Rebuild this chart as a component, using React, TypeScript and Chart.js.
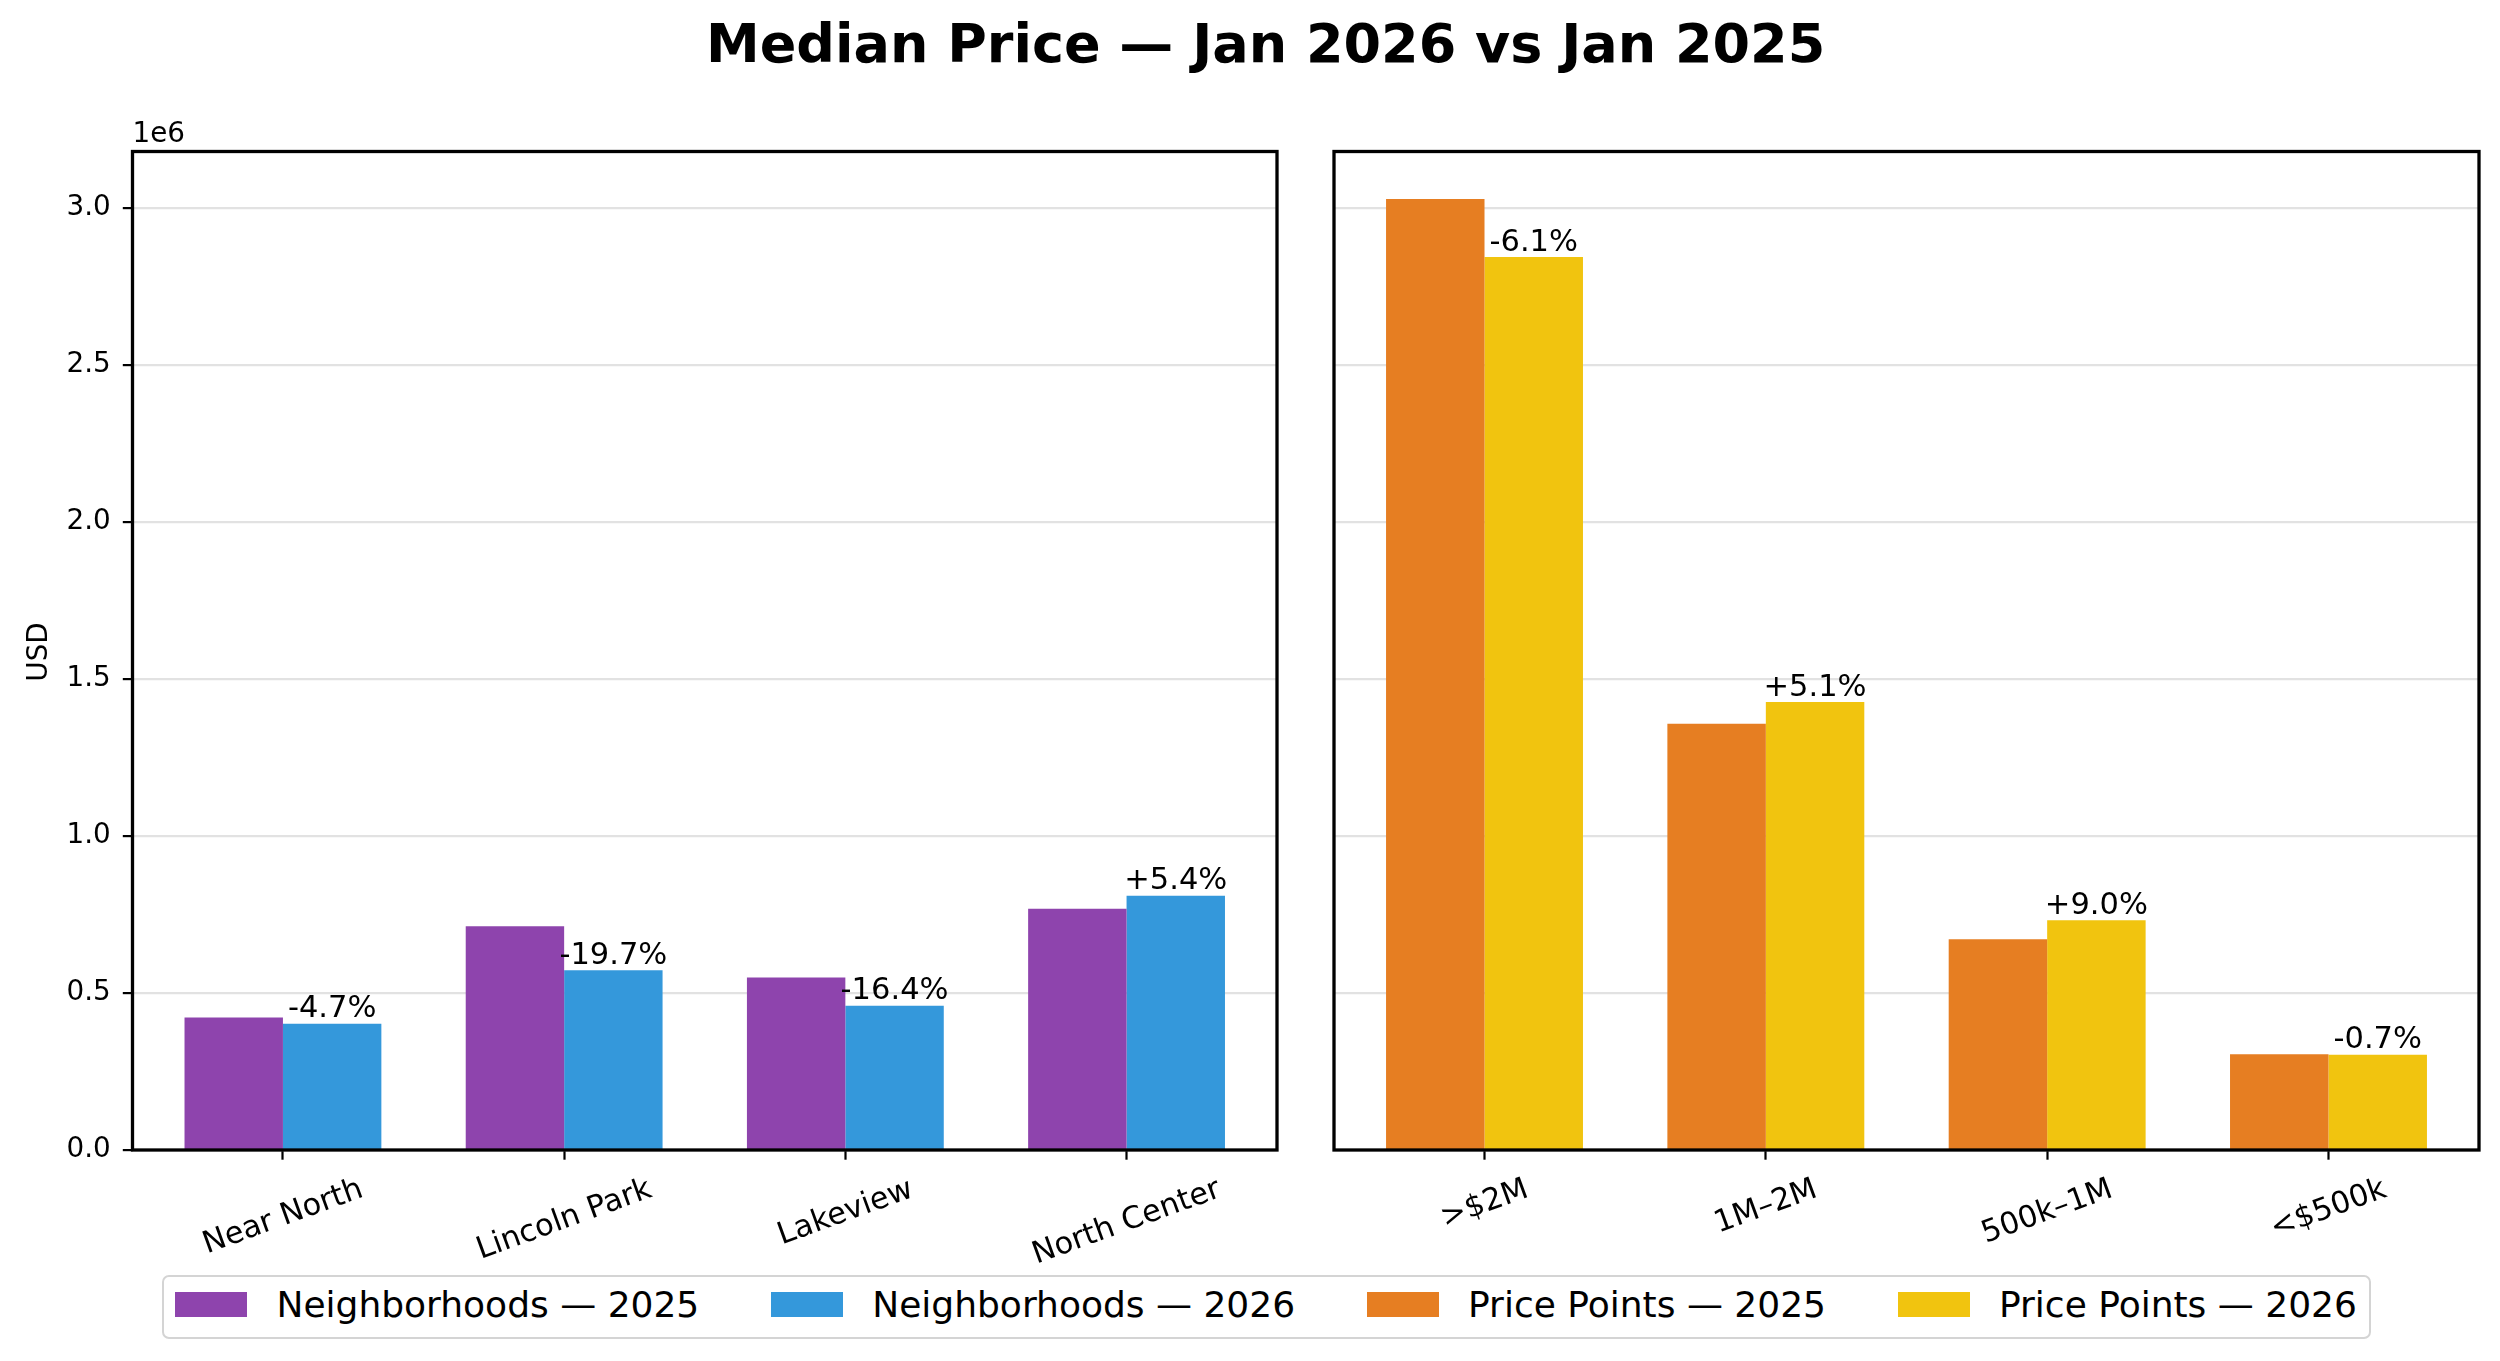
import React, { useEffect, useRef } from "react";
import { Chart, registerables } from "chart.js";

Chart.register(...registerables);

// ---------- data ----------
const neighborhoods = ["Near North", "Lincoln Park", "Lakeview", "North Center"];
const neighborhoods2025 = [422000, 712000, 549000, 768000];
const neighborhoods2026 = [402000, 572000, 459000, 809500];
const neighborhoodChanges = ["-4.7%", "-19.7%", "-16.4%", "+5.4%"];

const pricePoints = [">$2M", "1M\u20132M", "500k\u20131M", "<$500k"];
const pricePoints2025 = [3028000, 1357000, 671000, 305000];
const pricePoints2026 = [2843000, 1426000, 731500, 303000];
const pricePointChanges = ["-6.1%", "+5.1%", "+9.0%", "-0.7%"];

const yTickValues = [0, 500000, 1000000, 1500000, 2000000, 2500000, 3000000];
const yMaxValue = 3179000;

const legendLabels = [
  "Neighborhoods \u2014 2025",
  "Neighborhoods \u2014 2026",
  "Price Points \u2014 2025",
  "Price Points \u2014 2026",
];
const titleText = "Median Price \u2014 Jan 2026 vs Jan 2025";

// ---------- style ----------
const C_PURPLE = "#8e44ad";
const C_BLUE = "#3498db";
const C_ORANGE = "#e67e22";
const C_YELLOW = "#f1c40f";
const FONT = '"DejaVu Sans", sans-serif';
const TICK_PX = 27.8;
const LABEL_PX = 30.5;
const PLOT_TOP = 151.5;
const PLOT_BOTTOM = 1150;
const CANVAS_H = 1272;

type PanelProps = {
  x: number;
  width: number;
  plotLeft: number;
  plotRight: number;
  categories: string[];
  first: number[];
  second: number[];
  changes: string[];
  colors: string[];
  labels: string[];
  showY: boolean;
};

function Panel(p: PanelProps) {
  const ref = useRef<HTMLCanvasElement | null>(null);
  useEffect(() => {
    const canvas = ref.current;
    if (!canvas) return;
    const overlay = {
      id: "overlay",
      afterDatasetsDraw(chart: any) {
        const ctx = chart.ctx;
        const meta = chart.getDatasetMeta(1);
        ctx.save();
        ctx.font = `${LABEL_PX}px ${FONT}`;
        ctx.fillStyle = "#000";
        ctx.textAlign = "center";
        ctx.textBaseline = "alphabetic";
        meta.data.forEach((bar: any, i: number) => {
          ctx.fillText(p.changes[i], bar.x, bar.y - 0.21 * LABEL_PX);
        });
        ctx.restore();
      },
      afterDraw(chart: any) {
        const ctx = chart.ctx;
        const a = chart.chartArea;
        ctx.save();
        // spines
        ctx.strokeStyle = "#000";
        ctx.lineWidth = 3.3;
        ctx.lineJoin = "miter";
        ctx.strokeRect(a.left, a.top, a.right - a.left, a.bottom - a.top);
        // rotated x tick labels, centred on each tick
        const xs = chart.scales.x;
        const th = (20 * Math.PI) / 180;
        ctx.font = `${LABEL_PX}px ${FONT}`;
        ctx.fillStyle = "#000";
        ctx.textAlign = "center";
        ctx.textBaseline = "alphabetic";
        p.categories.forEach((lab, i) => {
          const px = xs.getPixelForValue(i);
          const w = ctx.measureText(lab).width;
          const h = 0.968 * LABEL_PX;
          const H = w * Math.sin(th) + h * Math.cos(th);
          const cy = a.bottom + 9.7 + 9.7 + 5 + H / 2;
          ctx.save();
          ctx.translate(px, cy);
          ctx.rotate(-th);
          ctx.fillText(lab, 0, 0.276 * LABEL_PX);
          ctx.restore();
        });
        if (p.showY) {
          ctx.font = `${TICK_PX}px ${FONT}`;
          ctx.textAlign = "left";
          ctx.fillText("1e6", a.left, 141.7);
          ctx.save();
          ctx.translate(46.5, 652);
          ctx.rotate(-Math.PI / 2);
          ctx.textAlign = "center";
          ctx.fillText("USD", 0, 0);
          ctx.restore();
        }
        ctx.restore();
      },
    };
    const chart = new Chart(canvas, {
      type: "bar",
      data: {
        datasets: [
          {
            label: p.labels[0],
            data: p.categories.map((_, i) => ({ x: i, y: p.first[i] })),
            backgroundColor: p.colors[0],
            borderWidth: 0,
            categoryPercentage: 0.7,
            barPercentage: 1.0,
          },
          {
            label: p.labels[1],
            data: p.categories.map((_, i) => ({ x: i, y: p.second[i] })),
            backgroundColor: p.colors[1],
            borderWidth: 0,
            categoryPercentage: 0.7,
            barPercentage: 1.0,
          },
        ],
      },
      options: {
        animation: false,
        responsive: false,
        devicePixelRatio: 1,
        layout: {
          autoPadding: false,
          padding: { top: PLOT_TOP, right: p.width - p.plotRight, bottom: 0, left: 0 },
        },
        plugins: { legend: { display: false }, tooltip: { enabled: false }, title: { display: false } },
        scales: {
          x: {
            type: "linear",
            min: -0.535,
            max: p.categories.length - 1 + 0.535,
            offset: false,
            afterBuildTicks: (s: any) => {
              s.ticks = p.categories.map((_, i) => ({ value: i }));
            },
            afterFit: (s: any) => {
              s.height = CANVAS_H - PLOT_BOTTOM;
            },
            ticks: { display: false },
            grid: {
              offset: false,
              drawOnChartArea: false,
              drawTicks: true,
              tickLength: 9.7,
              tickWidth: 2.2,
              tickColor: "#000",
            },
            border: { display: false },
          },
          y: {
            type: "linear",
            min: 0,
            max: yMaxValue,
            afterBuildTicks: (s: any) => {
              s.ticks = yTickValues.map((v) => ({ value: v }));
            },
            afterFit: (s: any) => {
              s.width = p.plotLeft;
            },
            ticks: {
              display: p.showY,
              color: "#000",
              padding: 12,
              font: { family: FONT, size: TICK_PX },
              callback: (v: any) => (Number(v) / 1e6).toFixed(1),
            },
            grid: {
              offset: false,
              color: "#e2e2e2",
              lineWidth: 2.2,
              drawTicks: p.showY,
              tickLength: 9.7,
              tickWidth: 2.2,
              tickColor: "#000",
            },
            border: { display: false },
          },
        },
      },
      plugins: [overlay],
    } as any);
    return () => chart.destroy();
  }, []);
  return (
    <canvas
      ref={ref}
      width={p.width}
      height={CANVAS_H}
      style={{ position: "absolute", left: p.x, top: 0, width: p.width, height: CANVAS_H }}
    />
  );
}

export default function App() {
  const legendColors = [C_PURPLE, C_BLUE, C_ORANGE, C_YELLOW];
  return (
    <div
      style={{
        position: "fixed",
        left: 0,
        top: 0,
        width: 2500,
        height: 1361,
        background: "#fff",
        overflow: "hidden",
        fontFamily: FONT,
      }}
    >
      <div
        style={{
          position: "absolute",
          left: 706,
          top: 62.7 - 0.846 * 54,
          fontSize: 54,
          lineHeight: 1,
          fontWeight: "bold",
          whiteSpace: "nowrap",
          color: "#000",
        }}
      >
        {titleText}
      </div>
      <Panel
        x={0}
        width={1305}
        plotLeft={132.5}
        plotRight={1277}
        categories={neighborhoods}
        first={neighborhoods2025}
        second={neighborhoods2026}
        changes={neighborhoodChanges}
        colors={[C_PURPLE, C_BLUE]}
        labels={[legendLabels[0], legendLabels[1]]}
        showY={true}
      />
      <Panel
        x={1305}
        width={1195}
        plotLeft={29}
        plotRight={1174}
        categories={pricePoints}
        first={pricePoints2025}
        second={pricePoints2026}
        changes={pricePointChanges}
        colors={[C_ORANGE, C_YELLOW]}
        labels={[legendLabels[2], legendLabels[3]]}
        showY={false}
      />
      <div
        style={{
          position: "absolute",
          left: 161.7,
          top: 1275,
          height: 64,
          boxSizing: "border-box",
          border: "2.5px solid #d4d4d4",
          borderRadius: 7,
          background: "#fff",
          display: "flex",
          flexDirection: "row",
          alignItems: "flex-start",
          paddingLeft: 11.8,
          paddingRight: 11.8,
          whiteSpace: "nowrap",
        }}
      >
        {legendLabels.map((lab, i) => (
          <div key={lab} style={{ display: "flex", alignItems: "flex-start", marginLeft: i === 0 ? 0 : 72 }}>
            <div style={{ width: 72, height: 25, marginTop: 15.2, background: legendColors[i] }} />
            <span style={{ marginLeft: 29, marginTop: 10, fontSize: 36, lineHeight: 1, color: "#000" }}>{lab}</span>
          </div>
        ))}
      </div>
    </div>
  );
}
